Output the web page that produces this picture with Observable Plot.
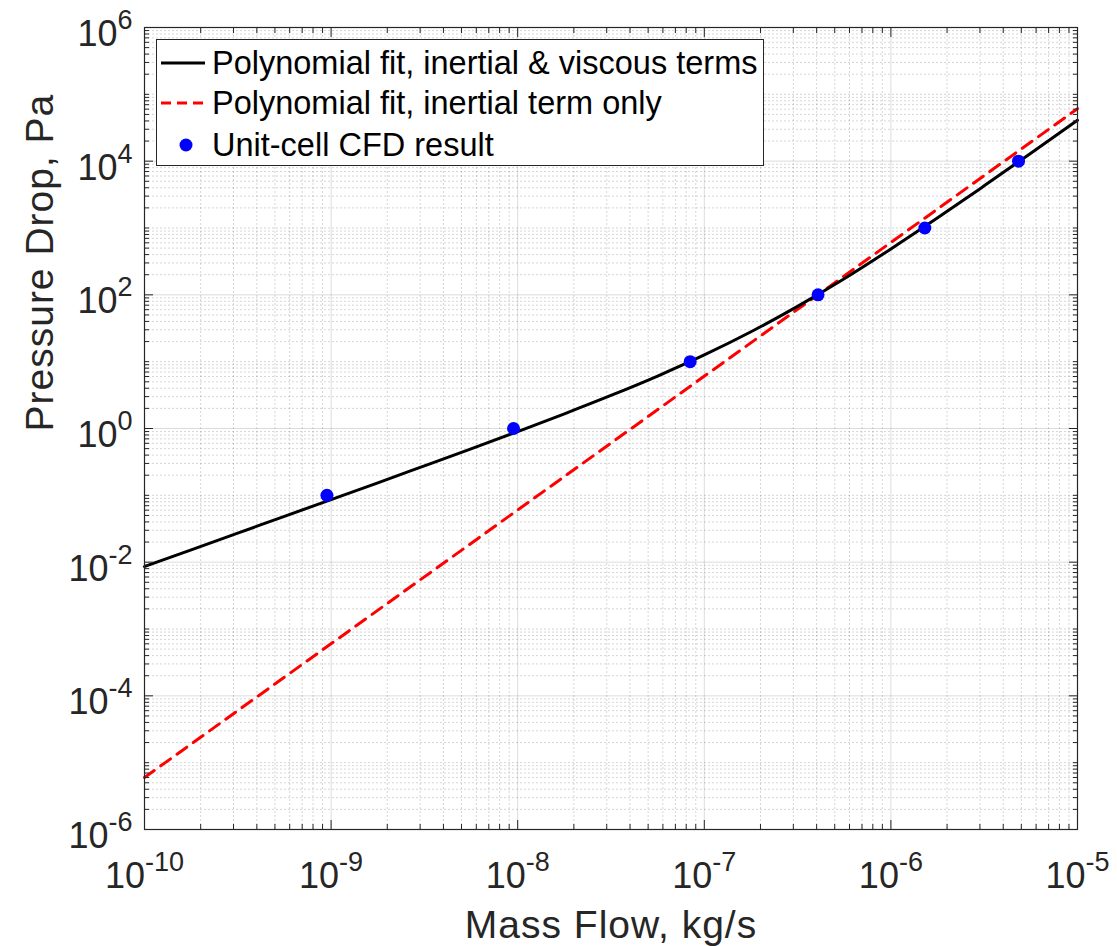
<!DOCTYPE html>
<html>
<head>
<meta charset="utf-8">
<script src="https://cdn.jsdelivr.net/npm/d3@7"></script>
<script src="https://cdn.jsdelivr.net/npm/@observablehq/plot@0.6"></script>
<style>
  html, body { margin: 0; padding: 0; background: #fff; overflow: hidden; }
  #wrap { position: relative; width: 1117px; height: 946px; font-family: "Liberation Sans", Arial, Helvetica, sans-serif; }
  #legend { position: absolute; left: 156px; top: 39px; width: 606px; height: 125px; background: #fff;
            border: 1.3px solid #262626; color: #000; font-size: 32.5px; }
  .row { position: absolute; left: 0; height: 40px; display: flex; align-items: center; white-space: nowrap; }
  .row svg { display: block; margin-left: 3px; margin-right: 6px; }
</style>
</head>
<body>
<div id="wrap"></div>
<script>
// ---- data ----
// Unit-cell CFD results
const cfdMassFlow = [9.5e-10, 9.5e-9, 8.4e-8, 4.07e-7, 1.52e-6, 4.83e-6];
const cfdPressure = [0.1, 1, 10, 100, 1000, 10000];

// Polynomial fit, inertial & viscous terms
const fitMassFlow = [1e-10, 1.78e-10, 3.16e-10, 5.62e-10, 1e-9, 1.78e-9, 3.16e-9, 5.62e-9,
                     1e-8, 1.78e-8, 3.16e-8, 5.62e-8, 1e-7, 1.78e-7, 3.16e-7, 5.62e-7,
                     1e-6, 1.78e-6, 3.16e-6, 5.62e-6, 1e-5];
const fitPressure = [0.0086, 0.0153, 0.0272, 0.0485, 0.0864, 0.154, 0.276, 0.496,
                     0.90, 1.66, 3.12, 6.09, 12.6, 28.0, 67.2, 174,
                     486, 1418, 4272, 13130, 40860];

// Polynomial fit, inertial term only (straight line on log-log axes)
const inertialMassFlow = [1e-10, 1e-5];
const inertialPressure = [6.0e-6, 6.1e4];

// Axis ticks
const xTicks = [1e-10, 1e-9, 1e-8, 1e-7, 1e-6, 1e-5];
const xTickLabels = ["10^-10", "10^-9", "10^-8", "10^-7", "10^-6", "10^-5"];
const yTicks = [1e-6, 1e-4, 1e-2, 1e0, 1e2, 1e4, 1e6];
const yTickLabels = ["10^-6", "10^-4", "10^-2", "10^0", "10^2", "10^4", "10^6"];
const yDecades = [1e-6, 1e-5, 1e-4, 1e-3, 1e-2, 1e-1, 1e0, 1e1, 1e2, 1e3, 1e4, 1e5];
const yOddDecades = [1e-5, 1e-3, 1e-1, 1e1, 1e3, 1e5];
const minorMultipliers = [2, 3, 4, 5, 6, 7, 8, 9];

const legendLabels = ["Polynomial fit, inertial & viscous terms", "Polynomial fit, inertial term only", "Unit-cell CFD result"];
const xTitle = "Mass Flow, kg/s";
const yTitle = "Pressure Drop, Pa";

// minor tick values
const xMinor = xTicks.slice(0, -1).flatMap(d => minorMultipliers.map(m => m * d));
const yMinor = yDecades.flatMap(d => minorMultipliers.map(m => m * d)).concat(yOddDecades);

const xLab = new Map(xTicks.map((d, i) => [d, xTickLabels[i]]));
const yLab = new Map(yTicks.map((d, i) => [d, yTickLabels[i]]));

const axisColor = "#262626";
const fitData = fitMassFlow.map((m, i) => ({m, p: fitPressure[i]}));
const inertialData = inertialMassFlow.map((m, i) => ({m, p: inertialPressure[i]}));
const cfdData = cfdMassFlow.map((m, i) => ({m, p: cfdPressure[i]}));

const majorLen = 9, minorLen = 5;

const chart = Plot.plot({
  width: 1117,
  height: 946,
  marginLeft: 144,
  marginRight: 40,
  marginTop: 27,
  marginBottom: 117,
  x: {type: "log", domain: [1e-10, 1e-5]},
  y: {type: "log", domain: [1e-6, 1e6]},
  style: {fontFamily: '"Liberation Sans", Arial, Helvetica, sans-serif', color: axisColor, background: "white", overflow: "visible"},
  marks: [
    // grid
    Plot.gridX(xMinor, {stroke: axisColor, strokeOpacity: 0.19, strokeDasharray: "2,2", strokeWidth: 1}),
    Plot.gridY(yMinor, {stroke: axisColor, strokeOpacity: 0.19, strokeDasharray: "2,2", strokeWidth: 1}),
    Plot.gridX(xTicks, {stroke: axisColor, strokeOpacity: 0.16, strokeWidth: 1}),
    Plot.gridY(yTicks, {stroke: axisColor, strokeOpacity: 0.16, strokeWidth: 1}),
    // data
    Plot.line(inertialData, {x: "m", y: "p", stroke: "#ff0000", strokeWidth: 3, strokeDasharray: "12,8"}),
    Plot.line(fitData, {x: "m", y: "p", stroke: "#000000", strokeWidth: 3, curve: "monotone-x"}),
    Plot.dot(cfdData, {x: "m", y: "p", r: 6.5, fill: "#0000ff", stroke: "none"}),
    // box
    Plot.frame({stroke: axisColor, strokeWidth: 1.2}),
    // inward ticks, all four sides
    Plot.axisX(xTicks, {anchor: "bottom", tickSize: majorLen, dy: -majorLen, fill: "none", label: null, stroke: axisColor}),
    Plot.axisX(xMinor, {anchor: "bottom", tickSize: minorLen, dy: -minorLen, fill: "none", label: null, stroke: axisColor}),
    Plot.axisX(xTicks, {anchor: "top", tickSize: majorLen, dy: majorLen, fill: "none", label: null, stroke: axisColor}),
    Plot.axisX(xMinor, {anchor: "top", tickSize: minorLen, dy: minorLen, fill: "none", label: null, stroke: axisColor}),
    Plot.axisY(yTicks, {anchor: "left", tickSize: majorLen, dx: majorLen, fill: "none", label: null, stroke: axisColor}),
    Plot.axisY(yMinor, {anchor: "left", tickSize: minorLen, dx: minorLen, fill: "none", label: null, stroke: axisColor}),
    Plot.axisY(yTicks, {anchor: "right", tickSize: majorLen, dx: -majorLen, fill: "none", label: null, stroke: axisColor}),
    Plot.axisY(yMinor, {anchor: "right", tickSize: minorLen, dx: -minorLen, fill: "none", label: null, stroke: axisColor}),
    // tick labels
    Plot.axisX(xTicks, {anchor: "bottom", tickSize: 0, tickPadding: 33, tickFormat: d => xLab.get(d), fontSize: 36, fill: axisColor, label: null}),
    Plot.axisY(yTicks, {anchor: "left", tickSize: 0, tickPadding: 12, dy: 7, tickFormat: d => yLab.get(d), fontSize: 36, fill: axisColor, label: null}),
    // axis titles
    Plot.text([xTitle], {text: d => d, frameAnchor: "bottom", dy: 108, lineAnchor: "bottom", fontSize: 39, fill: axisColor}),
    Plot.text([yTitle], {text: d => d, frameAnchor: "left", dx: -92, dy: 3, rotate: -90, lineAnchor: "bottom", fontSize: 39, fill: axisColor})
  ]
});

// superscript exponents in tick labels; slight letter spacing for axis titles
chart.querySelectorAll("text").forEach(t => {
  if (t.textContent === xTitle || t.textContent === yTitle) {
    t.setAttribute("letter-spacing", "1");
    return;
  }
  const m = /^10\^(-?\d+)$/.exec(t.textContent);
  if (!m) return;
  t.textContent = "10";
  const sup = document.createElementNS("http://www.w3.org/2000/svg", "tspan");
  sup.setAttribute("dy", "-17");
  sup.setAttribute("font-size", "27");
  sup.textContent = m[1];
  t.appendChild(sup);
});

const wrap = document.getElementById("wrap");
wrap.appendChild(chart);

// legend (inside the axes, upper left)
const legend = document.createElement("div");
legend.id = "legend";
const rowTops = [3, 43, 85];
const samples = [
  '<line x1="1" x2="45" y1="20" y2="20" stroke="#000" stroke-width="3"/>',
  '<line x1="1" x2="45" y1="20" y2="20" stroke="#ff0000" stroke-width="3" stroke-dasharray="10,6"/>',
  '<circle cx="26" cy="20" r="6.5" fill="#0000ff"/>'
];
legendLabels.forEach((lab, i) => {
  const row = document.createElement("div");
  row.className = "row";
  row.style.top = rowTops[i] + "px";
  row.innerHTML = `<svg width="46" height="40">${samples[i]}</svg>`;
  const span = document.createElement("span");
  span.textContent = lab;
  row.appendChild(span);
  legend.appendChild(row);
});
wrap.appendChild(legend);
</script>
</body>
</html>
